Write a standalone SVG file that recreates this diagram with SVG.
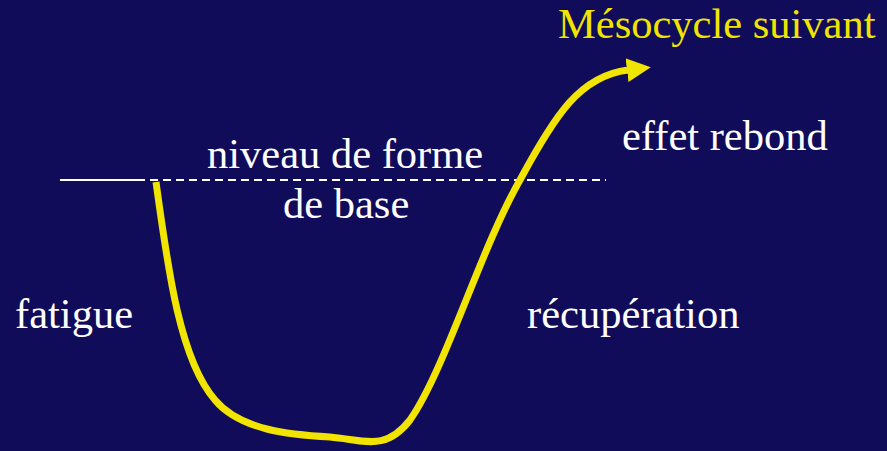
<svg xmlns="http://www.w3.org/2000/svg" width="887" height="451" viewBox="0 0 887 451">
<style>
text{font-family:"Liberation Serif","Times New Roman",serif;font-size:42.5px;fill:#ffffff}
.y{fill:#f0e400}
</style>
<defs>
<marker id="ah" markerUnits="userSpaceOnUse" markerWidth="30" markerHeight="30" refX="1" refY="12" orient="auto">
<path d="M0,0 L24,12 L0,24 Z" fill="#f0e400"/>
</marker>
</defs>
<rect width="887" height="451" fill="#110c5a"/>
<g id="baseline">
<line x1="60" y1="180" x2="145" y2="180" stroke="#ffffff" stroke-width="2"/>
<line x1="150" y1="180" x2="606" y2="180" stroke="#ffffff" stroke-width="2" stroke-dasharray="8,5"/>
</g>
<g id="connectors">
<path d="M156,182 C168,270 180,360 215,400 C240,430 290,435 330,437 C365,440 385,452 410,420 C445,370 480,250 520,180 C555,115 580,76 628,70" fill="none" stroke="#f0e400" stroke-width="7" marker-end="url(#ah)"/>
</g>
<g id="labels">
<text class="y" x="558" y="38">Mésocycle suivant</text>
<text x="207" y="168">niveau de forme</text>
<text x="283" y="218">de base</text>
<text x="622" y="150">effet rebond</text>
<text x="15" y="328">fatigue</text>
<text x="527" y="328">récupération</text>
</g>
</svg>
